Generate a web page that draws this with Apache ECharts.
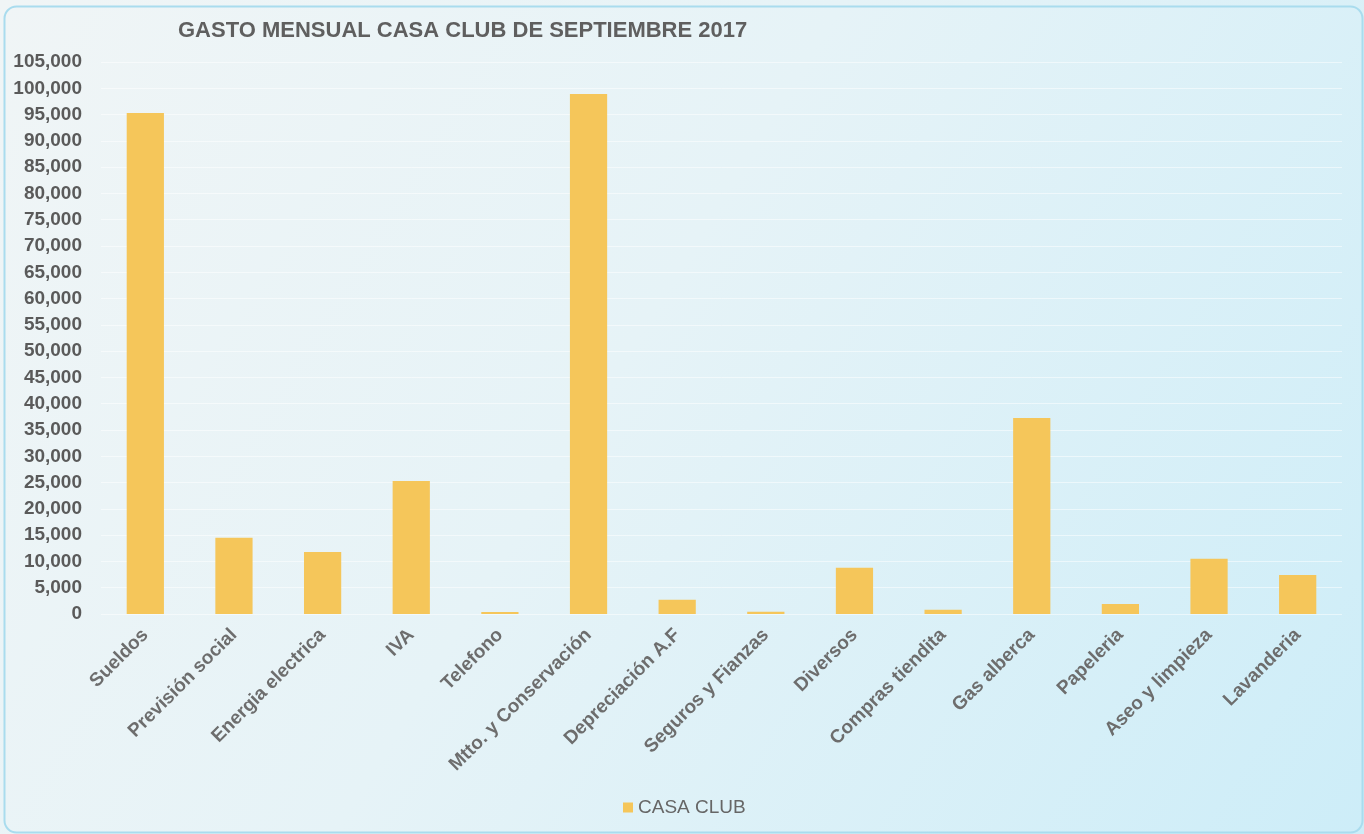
<!DOCTYPE html>
<html>
<head>
<meta charset="utf-8">
<script src="https://cdn.jsdelivr.net/npm/echarts@6/dist/echarts.min.js"></script>
<style>
  html, body { margin: 0; padding: 0; background: #e9f4f8; }
  #chart { width: 1364px; height: 834px; }
</style>
</head>
<body>
<div id="chart"></div>
<script>
// categories and monthly amounts
const categories = [
  'Sueldos', 'Previsión social', 'Energia electrica', 'IVA', 'Telefono',
  'Mtto. y Conservación', 'Depreciación A.F', 'Seguros y Fianzas', 'Diversos',
  'Compras tiendita', 'Gas alberca', 'Papeleria', 'Aseo y limpieza', 'Lavanderia'
];
const casaClub = [95300, 14500, 11800, 25300, 400, 98900, 2700, 450, 8800, 800, 37300, 1900, 10500, 7400];
const seriesName = 'CASA CLUB';
const chartTitle = 'GASTO MENSUAL CASA CLUB DE SEPTIEMBRE 2017';

const chart = echarts.init(document.getElementById('chart'));

chart.setOption({
  backgroundColor: new echarts.graphic.LinearGradient(0, 0, 1, 1, [
    { offset: 0, color: '#f0f5f6' },
    { offset: 0.45, color: '#e6f3f7' },
    { offset: 1, color: '#cdedf8' }
  ]),
  textStyle: { fontFamily: 'Liberation Sans, Arial, sans-serif' },
  // rounded frame of the printed chart
  graphic: [{
    type: 'rect',
    left: 2, top: 4,
    shape: { width: 1358, height: 826, r: 12 },
    style: { fill: 'none', stroke: '#a9dcee', lineWidth: 2 },
    silent: true
  }],
  title: {
    text: chartTitle,
    left: 173,
    top: 15,
    textStyle: { fontSize: 22, fontWeight: 'bold', color: '#5f5f5f' }
  },
  legend: {
    data: [seriesName],
    bottom: 12,
    left: 618,
    itemWidth: 10,
    itemHeight: 10,
    itemGap: 6,
    icon: 'rect',
    textStyle: { fontSize: 19, color: '#666' }
  },
  grid: { left: 101, right: 22, top: 62, bottom: 220 },
  xAxis: {
    type: 'category',
    data: categories,
    axisLine: { show: false },
    axisTick: { show: false },
    axisLabel: {
      rotate: 45,
      interval: 0,
      margin: 18,
      fontSize: 19,
      fontWeight: 'bold',
      color: '#6d6d6d'
    }
  },
  yAxis: {
    type: 'value',
    min: 0,
    max: 105000,
    interval: 5000,
    axisLine: { show: false },
    axisTick: { show: false },
    splitLine: { lineStyle: { color: 'rgba(255,255,255,0.5)', width: 1 } },
    axisLabel: {
      fontSize: 19,
      fontWeight: 'bold',
      color: '#5a5a5a',
      margin: 19,
      formatter: v => v.toLocaleString('en-US')
    }
  },
  series: [{
    name: seriesName,
    type: 'bar',
    data: casaClub,
    barCategoryGap: '58%',
    itemStyle: { color: '#f5c65a' }
  }]
});
</script>
</body>
</html>
